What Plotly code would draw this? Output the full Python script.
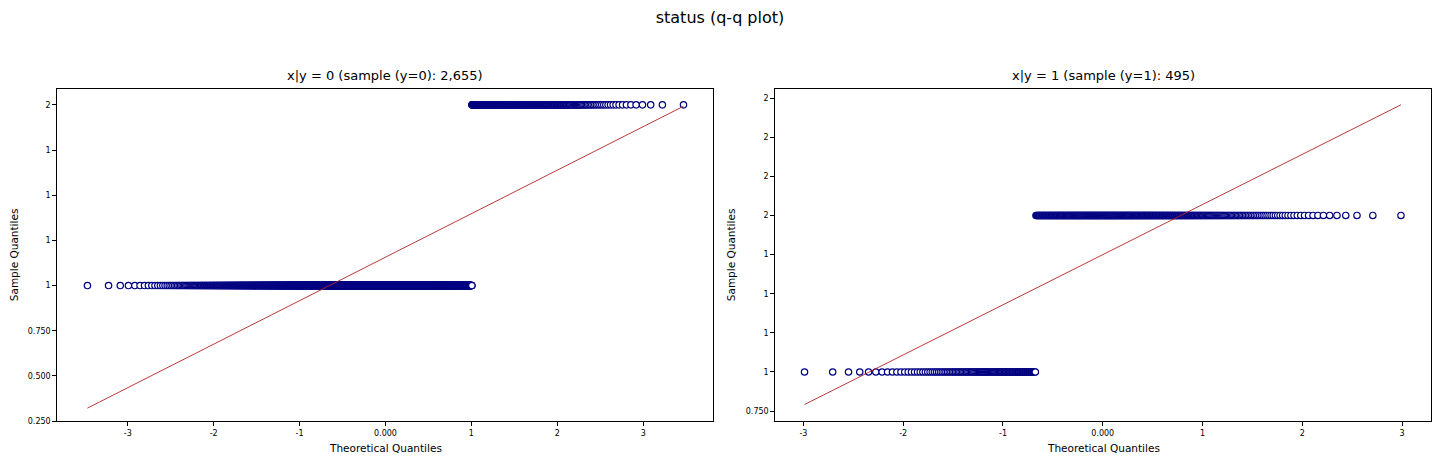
import numpy as np
import plotly.graph_objects as go
from statistics import NormalDist

# observed values of "status" and how often each occurs per class
status_values = [1, 2]
counts_y0 = [2238, 417]
counts_y1 = [124, 371]

panel_titles = ["x|y = 0 (sample (y=0): 2,655)", "x|y = 1 (sample (y=1): 495)"]

x_tickvals = [-3, -2, -1, 0, 1, 2, 3]
x_ticktext = ["-3", "-2", "-1", "0.000", "1", "2", "3"]
y0_tickvals = [0.25, 0.5, 0.75, 1.0, 1.25, 1.5, 1.75, 2.0]
y0_ticktext = ["0.250", "0.500", "0.750", "1", "1", "1", "1", "2"]
y1_tickvals = [0.75, 1.0, 1.25, 1.5, 1.75, 2.0, 2.25, 2.5, 2.75]
y1_ticktext = ["0.750", "1", "1", "1", "1", "2", "2", "2", "2"]

# the page body has an 8px margin; the photo also comes out slightly squeezed vertically
OFF = 8
W, H = 1440 - 2 * OFF, 464 - OFF
SQ = 0.99


def px(p):
    return (p - OFF) / W


def py(p):
    return 1 - (p - OFF) / (SQ * H)


def qq(values, counts):
    sample = np.repeat(values, counts).astype(float)
    n = len(sample)
    # Filliben order statistic medians (same as scipy.stats.probplot)
    m = (np.arange(1, n + 1) - 0.3175) / (n + 0.365)
    m[-1] = 0.5 ** (1.0 / n)
    m[0] = 1 - m[-1]
    nd = NormalDist()
    theo = np.array([nd.inv_cdf(p) for p in m])
    slope, icpt = np.polyfit(theo, sample, 1)
    line_x = np.array([theo[0], theo[-1]])
    return theo, sample, line_x, slope * line_x + icpt


fig = go.Figure()
font = "DejaVu Sans"

panels = [(counts_y0, y0_tickvals, y0_ticktext, ""),
          (counts_y1, y1_tickvals, y1_ticktext, "2")]
x_domains = [[px(57.3), px(713.3)], [px(775.3), px(1431)]]
y_domain = [py(421.7), py(89.2)]
x_ranges = [[-3.82, 3.816], [-3.282, 3.29]]
y_ranges = [[0.249, 2.087], [0.685, 2.807]]
ylabel_x = [14, 731]

for i, (counts, ytv, ytt, s) in enumerate(panels):
    theo, sample, lx, ly = qq(status_values, counts)
    fig.add_trace(go.Scatter(x=theo, y=sample, mode="markers", xaxis="x" + s, yaxis="y" + s,
                             marker={'symbol': 'circle', 'size': 6.4, 'color': 'white',
                                     'line': {'color': 'navy', 'width': 1.2}},
                             showlegend=False))
    fig.add_trace(go.Scatter(x=lx, y=ly, mode="lines", xaxis="x" + s, yaxis="y" + s,
                             line={'color': '#b22222', 'width': 0.9}, showlegend=False))
    axis_common = dict(showgrid=False, zeroline=False, showline=True, mirror=True,
                       linecolor='black', linewidth=1, ticks='outside', ticklen=4,
                       tickcolor='black', tickfont={'size': 8, 'color': 'black', 'family': font})
    fig.update_layout({
        'xaxis' + s: dict(axis_common, domain=x_domains[i], anchor='y' + s,
                          range=x_ranges[i],
                          tickmode='array', tickvals=x_tickvals, ticktext=x_ticktext),
        'yaxis' + s: dict(axis_common, domain=y_domain, anchor='x' + s,
                          range=y_ranges[i],
                          tickmode='array', tickvals=ytv, ticktext=ytt),
    })
    cx = sum(x_domains[i]) / 2
    fig.add_annotation(text=panel_titles[i], x=cx, y=py(76), xref='paper', yref='paper',
                       xanchor='center', yanchor='middle', showarrow=False,
                       font={'size': 13, 'color': 'black', 'family': font})
    fig.add_annotation(text="Theoretical Quantiles", x=cx, y=py(448),
                       xref='paper', yref='paper', xanchor='center', yanchor='middle',
                       showarrow=False, font={'size': 10.5, 'color': 'black', 'family': font})
    fig.add_annotation(text="Sample Quantiles", x=px(ylabel_x[i]), y=sum(y_domain) / 2,
                       xref='paper', yref='paper', xanchor='center', yanchor='middle',
                       showarrow=False, textangle=-90,
                       font={'size': 10.5, 'color': 'black', 'family': font})

fig.update_layout(
    width=W, height=H,
    margin={'l': 0, 't': 0, 'b': 0, 'r': 0},
    paper_bgcolor='white', plot_bgcolor='white',
    font={'family': font, 'color': 'black'},
    title={'text': "status (q-q plot)", 'x': 0.5, 'xanchor': 'center',
           'xref': 'paper', 'y': py(17.5), 'yanchor': 'middle',
           'font': {'size': 16, 'color': 'black', 'family': font}})

fig.write_html("out.html")
